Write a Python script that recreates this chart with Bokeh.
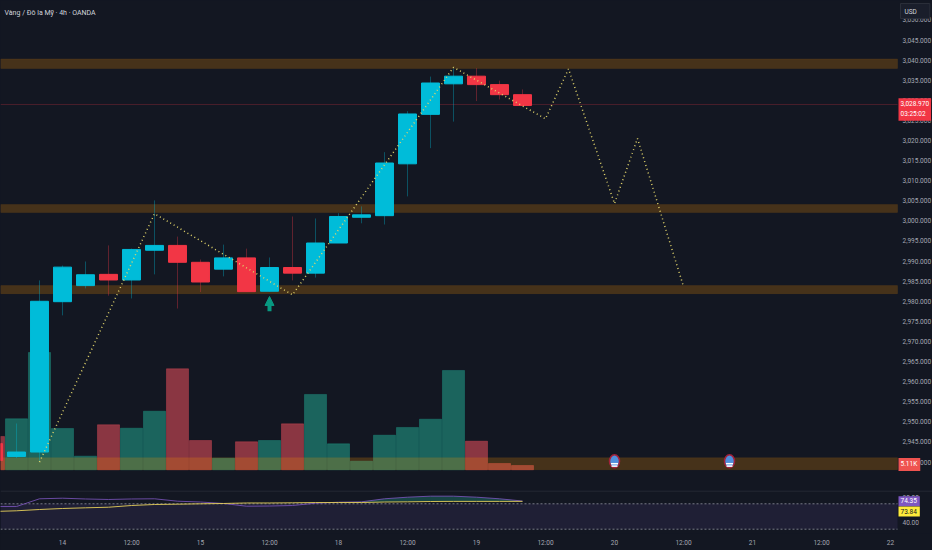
from bokeh.plotting import figure
from bokeh.layouts import column
from bokeh.models import (Range1d, LinearAxis, FixedTicker, NumeralTickFormatter, Label,
                          Arrow, NormalHead, ColumnDataSource)
from bokeh.embed import file_html
from bokeh.resources import INLINE

BG = "#131722"
FONT = "Roboto"
TICK = "6.5px"
BLUE = "#00bcd9"
RED = "#f23645"

# 4h bars; index 0 is the 14th 00:00
bar_index = list(range(-3, 21))
open_  = [2944.6, 2941.4, 2942.5, 2979.9, 2983.9, 2986.7, 2985.3, 2992.7, 2993.9, 2989.7, 2988.0, 2990.8,
          2982.5, 2988.4, 2987.0, 2994.5, 3000.9, 3001.3, 3014.2, 3026.5, 3034.1, 3036.0, 3033.9, 3031.4]
high   = [2946.0, 2949.6, 2985.2, 2988.9, 2989.9, 2993.9, 2993.1, 3005.1, 2996.1, 2990.4, 2994.1, 2993.1,
          2990.9, 3001.1, 3000.6, 3001.9, 3003.6, 3017.1, 3027.3, 3035.9, 3037.9, 3038.0, 3034.9, 3032.7]
low    = [2939.0, 2941.0, 2940.0, 2976.5, 2983.2, 2981.4, 2980.7, 2986.7, 2978.2, 2982.3, 2986.2, 2982.4,
          2982.4, 2985.2, 2985.9, 2994.5, 2999.4, 2999.1, 3006.1, 3018.1, 3024.7, 3029.8, 3030.2, 3028.7]
close  = [2940.4, 2942.5, 2980.0, 2988.5, 2986.6, 2985.3, 2992.9, 2993.9, 2989.7, 2984.8, 2990.8, 2982.4,
          2988.4, 2987.0, 2994.5, 3001.1, 3001.5, 3014.4, 3026.6, 3034.3, 3036.0, 3033.9, 3031.4, 3028.7]
volume_k = [39.6, 60.6, 139.4, 49.1, 16.2, 53.5, 49.4, 69.6, 120.0, 34.8, 13.8, 33.3,
            34.8, 54.6, 89.5, 30.9, 10.2, 41.1, 50.3, 60.1, 118.0, 34.0, 7.5, 5.11]
rsi    = [65.7, 65.7, 77.9, 78.8, 77.6, 76.8, 77.6, 77.9, 74.1, 72.8, 70.5, 66.2,
          66.5, 67.3, 70.9, 72.5, 73.1, 77.9, 80.4, 82.0, 82.0, 80.4, 77.9, 74.35]
rsi_ma = [57.9, 59.0, 61.0, 62.6, 63.7, 64.6, 67.3, 68.9, 69.4, 70.0, 70.5, 71.3,
          71.3, 71.6, 72.0, 72.0, 72.0, 72.8, 73.1, 73.6, 73.8, 73.8, 73.8, 73.84]

zone_top    = [3040.3, 3004.1, 2983.9, 2941.1]
zone_bottom = [3037.9, 3002.1, 2981.9, 2938.1]
path_index = [-1, 4, 10, 17, 21, 22, 24, 25, 27]
path_price = [2940.0, 3001.8, 2981.6, 3038.2, 3025.4, 3037.8, 3004.3, 3020.5, 2983.7]
event_index = [24, 29]
event_price = [2940.2, 2940.2]
last_price = 3028.97
price_ticks = [2940 + 5 * i for i in range(23)]
time_ticks = list(range(0, 37, 3))
time_labels = ["14", "12:00", "15", "12:00", "18", "12:00", "19", "12:00", "20", "12:00", "21", "12:00", "22"]
rsi_ticks = [40, 60, 80]

px = lambda v: (v - 62) / 23
py = lambda v: 3040 - (v - 59.6) * 0.24876
ry = lambda v: 70 + (503.3 - v) / 0.635
XR = (px(0), px(932))
XE = px(897)


def base(fh, h, yr, bottom):
    f = figure(width=932, height=h, frame_width=932, frame_height=fh, x_range=Range1d(*XR), y_range=Range1d(*yr),
               output_backend="svg", toolbar_location=None, min_border_left=0, min_border_right=0,
               min_border_top=0, min_border_bottom=bottom, background_fill_color=BG, border_fill_color=BG,
               outline_line_color=None, x_axis_location=None, y_axis_location=None)
    f.grid.visible = False
    ax = LinearAxis(axis_line_color=None, major_tick_line_color=None, minor_tick_line_color=None,
                    major_label_text_color="#a5a8b2", major_label_text_font=FONT,
                    major_label_text_font_size=TICK, major_tick_in=0, major_tick_out=0,
                    major_label_standoff=-30)
    f.add_layout(ax, "right")
    return f, ax


def tag(f, x, y, text, bg, color="#ffffff", border=None, padding=(2, 3, 2, 3)):
    f.add_layout(Label(x=x, y=y, text=text, text_font=FONT, text_font_size=TICK, text_color=color,
                       text_align="left", text_baseline="middle", background_fill_color=bg,
                       border_line_color=border, padding=padding))


p, ax = base(490, 490, (py(490), py(0)), 0)
ax.ticker = FixedTicker(ticks=price_ticks)
ax.formatter = NumeralTickFormatter(format="0,0.000")
p.extra_y_ranges = {"vol": Range1d(-24.6, 557.5)}

# volume
vol_colors = ["#22ab94" if c >= o else "#f7525f" for o, c in zip(open_, close)]
p.vbar(x=bar_index, top=volume_k, bottom=0, width=0.96, y_range_name="vol",
       fill_color=vol_colors, fill_alpha=0.52, line_color=vol_colors, line_alpha=0.3)

# zones
p.hbar(y=[(a + b) / 2 for a, b in zip(zone_top, zone_bottom)],
       height=[a - b for a, b in zip(zone_top, zone_bottom)],
       left=XR[0], right=XE, fill_color="#ff9800", fill_alpha=0.22,
       line_color="#ff9800", line_alpha=0.08)

p.segment(x0=[XR[0]], x1=[XE], y0=[last_price], y1=[last_price], line_color=RED, line_alpha=0.25, line_width=1)

# candles
colors = [BLUE if c >= o else RED for o, c in zip(open_, close)]
p.segment(x0=bar_index, x1=bar_index, y0=low, y1=high, line_color=colors, line_alpha=0.35, line_width=1)
p.vbar(x=bar_index, top=[max(a, b) for a, b in zip(open_, close)], bottom=[min(a, b) for a, b in zip(open_, close)],
       width=0.78, fill_color=colors, line_color=colors)

# projected path
p.line(path_index, path_price, line_color="#e0d36a", line_width=1.5, line_dash="1 3")

# arrow
p.add_layout(Arrow(x_start=9, y_start=2977.5, x_end=9, y_end=2981.2, line_color="#089981", line_width=4,
                   end=NormalHead(size=9, fill_color="#089981", line_color="#089981")))

# events
p.ellipse(event_index, event_price, width=10, height=13, width_units="screen", height_units="screen",
          fill_color="#4f8fdc", line_color="#a3213a", line_width=1.5)
p.scatter(event_index, [v - 0.6 for v in event_price], marker="dash", size=7, line_color="#ffffff", line_width=1.5)
p.scatter(event_index, [v - 1.2 for v in event_price], marker="dash", size=6, line_color="#ffffff", line_width=1.5)

# texts
p.add_layout(Label(x=px(4), y=py(12), text="Vàng / Đô la Mỹ · 4h · OANDA", text_font=FONT, text_font_size="7px",
                   text_color="#d1d4dc", text_baseline="middle"))
tag(p, px(900), py(10.5), "USD", "#1a1e2b", "#d1d4dc", "#2a2e39", (4, 13, 4, 3))
tag(p, px(898), py(109), "3,028.970\n03:25:02", RED, "#ffffff", None, (2, 2, 2, 3))
tag(p, px(898), py(464), "5.11K", "#ef5350")

# oscillator
q, qax = base(43, 60, (ry(533), ry(490)), 17)
qax.ticker = FixedTicker(ticks=rsi_ticks)
qax.formatter = NumeralTickFormatter(format="0.00")
xax = LinearAxis(axis_line_color=None, major_tick_line_color=None, minor_tick_line_color=None,
                 major_label_text_color="#a5a8b2", major_label_text_font=FONT, major_label_text_font_size=TICK,
                 major_tick_in=0, major_tick_out=0, major_label_standoff=5,
                 ticker=FixedTicker(ticks=time_ticks),
                 major_label_overrides={t: l for t, l in zip(time_ticks, time_labels)})
q.add_layout(xax, "below")
q.hbar(y=[50], height=[40], left=XR[0], right=XE, fill_color="#7e57c2", fill_alpha=0.12, line_color=None)
q.segment(x0=[XR[0], XR[0]], x1=[XE, XE], y0=[70, 30], y1=[70, 30], line_color="#787b86", line_dash="2 2", line_width=1)
q.segment(x0=[XR[0]], x1=[XR[1]], y0=[ry(490.5)], y1=[ry(490.5)], line_color="#2a2e39", line_width=1)
src = ColumnDataSource(dict(x=bar_index, rsi=rsi, ma=rsi_ma))
q.varea(x="x", y1="rsi", y2="ma", source=ColumnDataSource(dict(x=bar_index[15:], rsi=rsi[15:], ma=rsi_ma[15:])),
        fill_color="#22ab94", fill_alpha=0.3)
q.line("x", "rsi", source=src, line_color="#7e57c2", line_width=1, line_alpha=0.8)
q.line("x", "ma", source=src, line_color="#e6cf5a", line_width=1, line_alpha=0.9)
tag(q, px(898), ry(500.8), "74.35", "#7e57c2")
tag(q, px(898), ry(511), "73.84", "#ffeb3b", "#131722")

layout = column(p, q, spacing=0)
html = file_html(layout, INLINE).replace("</head>", "<style>html,body{background:#131722}</style></head>")
open("out.html", "w").write(html)
